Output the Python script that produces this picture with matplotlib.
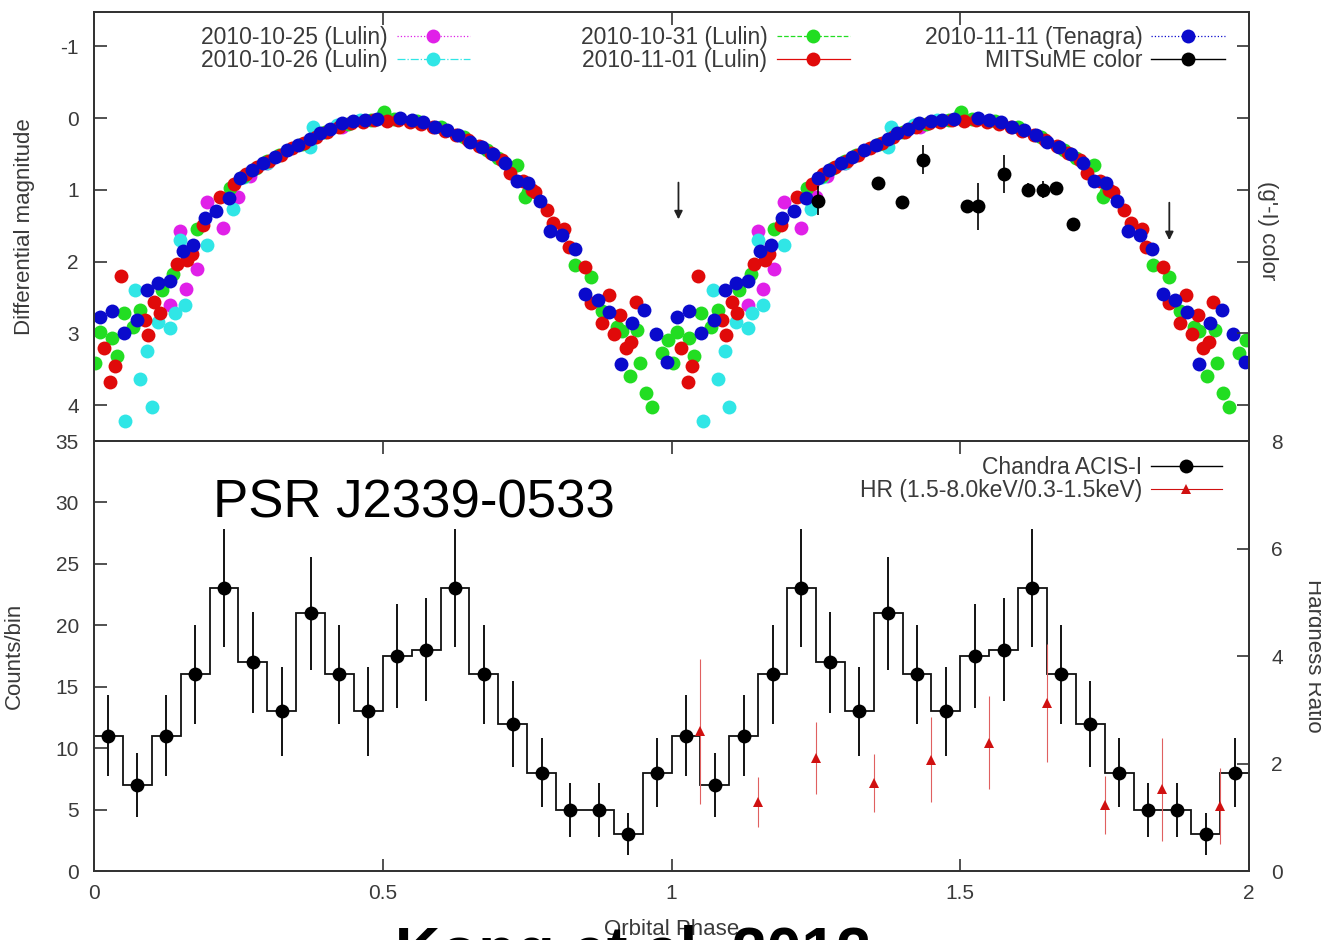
import numpy as np
import matplotlib.pyplot as plt
from matplotlib.lines import Line2D
from matplotlib.legend import Legend

plt.rcParams['font.family'] = ['Liberation Sans', 'DejaVu Sans']
plt.rcParams['axes.unicode_minus'] = False

# optical light curves, folded phase 0-1 (shown twice, 0-2)
ph_1025 = [0.132, 0.149, 0.159, 0.178, 0.195, 0.224, 0.250, 0.270, 0.300, 0.370, 0.430]
mag_1025 = [2.60, 1.58, 2.38, 2.11, 1.17, 1.53, 1.10, 0.80, 0.62, 0.36, 0.12]

ph_1026 = [0.054, 0.071, 0.080, 0.092, 0.100, 0.111, 0.132, 0.140, 0.149, 0.158,
           0.195, 0.241, 0.260, 0.300, 0.374, 0.380, 0.420, 0.460, 0.500]
mag_1026 = [4.22, 2.40, 3.64, 3.24, 4.03, 2.84, 2.93, 2.72, 1.70, 2.61,
            1.77, 1.26, 0.82, 0.62, 0.40, 0.12, 0.10, 0.03, -0.06]

ph_1031 = [0.002, 0.010, 0.031, 0.039, 0.051, 0.068, 0.080, 0.117, 0.137, 0.178,
           0.235, 0.260, 0.280, 0.300, 0.320, 0.360, 0.400, 0.440, 0.480, 0.502,
           0.520, 0.560, 0.600, 0.640, 0.680, 0.700, 0.732, 0.747, 0.752, 0.833,
           0.861, 0.880, 0.905, 0.914, 0.928, 0.941, 0.945, 0.955, 0.966, 0.983, 0.994]
mag_1031 = [3.42, 2.98, 3.07, 3.31, 2.72, 2.91, 2.67, 2.40, 2.17, 1.54,
            0.98, 0.80, 0.70, 0.60, 0.52, 0.36, 0.19, 0.08, 0.02, -0.08,
            0.01, 0.04, 0.13, 0.27, 0.44, 0.55, 0.66, 1.10, 1.03, 2.05,
            2.22, 2.69, 2.91, 2.97, 3.60, 2.96, 3.41, 3.83, 4.03, 3.28, 3.09]

ph_1101 = [0.017, 0.028, 0.036, 0.046, 0.088, 0.094, 0.104, 0.114, 0.143, 0.161,
           0.169, 0.189, 0.218, 0.243, 0.263, 0.283, 0.303, 0.323, 0.343, 0.364,
           0.384, 0.404, 0.424, 0.445, 0.465, 0.485, 0.507, 0.527, 0.547, 0.567,
           0.587, 0.607, 0.627, 0.647, 0.667, 0.687, 0.707, 0.720, 0.742, 0.758,
           0.764, 0.784, 0.795, 0.814, 0.822, 0.851, 0.861, 0.880, 0.891, 0.901,
           0.911, 0.921, 0.930, 0.938]
mag_1101 = [3.20, 3.68, 3.46, 2.20, 2.82, 3.03, 2.56, 2.71, 2.03, 1.98,
            1.90, 1.49, 1.10, 0.92, 0.78, 0.68, 0.60, 0.51, 0.42, 0.35,
            0.27, 0.19, 0.12, 0.07, 0.05, 0.03, 0.04, 0.03, 0.05, 0.08,
            0.12, 0.18, 0.24, 0.31, 0.39, 0.48, 0.58, 0.77, 0.88, 1.00,
            1.03, 1.28, 1.46, 1.55, 1.80, 2.07, 2.58, 2.85, 2.47, 3.01,
            2.75, 3.21, 3.12, 2.56]

ph_1111 = [0.010, 0.031, 0.051, 0.074, 0.092, 0.111, 0.132, 0.154, 0.172, 0.192,
           0.212, 0.233, 0.253, 0.273, 0.293, 0.313, 0.334, 0.354, 0.374, 0.391,
           0.409, 0.429, 0.449, 0.469, 0.490, 0.530, 0.550, 0.570, 0.590, 0.611,
           0.631, 0.651, 0.671, 0.691, 0.712, 0.732, 0.752, 0.772, 0.790, 0.811,
           0.832, 0.851, 0.872, 0.892, 0.913, 0.932, 0.953, 0.973, 0.993]
mag_1111 = [2.77, 2.69, 2.99, 2.82, 2.40, 2.30, 2.27, 1.85, 1.77, 1.39,
            1.30, 1.12, 0.84, 0.72, 0.62, 0.54, 0.45, 0.38, 0.29, 0.21,
            0.15, 0.07, 0.04, 0.02, 0.01, 0.00, 0.03, 0.06, 0.12, 0.17,
            0.23, 0.33, 0.40, 0.50, 0.63, 0.88, 0.91, 1.15, 1.57, 1.63,
            1.82, 2.45, 2.54, 2.70, 3.43, 2.85, 2.67, 3.01, 3.40]

# MITSuME (g'-I) colour
ph_mit = [1.254, 1.358, 1.399, 1.435, 1.511, 1.530, 1.575, 1.618, 1.644, 1.666, 1.696]
col_mit = [1.15, 0.91, 1.17, 0.58, 1.23, 1.23, 0.78, 1.00, 1.00, 0.98, 1.47]
err_mit = [0.20, 0.05, 0.07, 0.20, 0.05, 0.33, 0.27, 0.10, 0.12, 0.05, 0.05]

# arrows (phase, start, end)
arrow_ph = [1.012, 1.862]
arrow_y0 = [0.86, 1.14]
arrow_y1 = [1.45, 1.74]

# Chandra counts per 0.05 phase bin (phase 0-1, repeated)
counts = [11, 7, 11, 16, 23, 17, 13, 21, 16, 13, 17.5, 18, 23, 16, 12, 8, 5, 5, 3, 8]
counts_err = [3.3, 2.6, 3.3, 4.0, 4.8, 4.1, 3.6, 4.6, 4.0, 3.6,
              4.2, 4.2, 4.8, 4.0, 3.5, 2.8, 2.2, 2.2, 1.7, 2.8]

# hardness ratio
ph_hr = [1.05, 1.15, 1.25, 1.35, 1.45, 1.55, 1.65, 1.75, 1.85, 1.95]
hr = [2.60, 1.28, 2.10, 1.63, 2.07, 2.39, 3.12, 1.23, 1.52, 1.21]
hr_err = [1.35, 0.47, 0.67, 0.54, 0.79, 0.87, 1.10, 0.54, 0.96, 0.70]

series = [
    (ph_1025, mag_1025, '#e020e8', ':', '2010-10-25 (Lulin)'),
    (ph_1026, mag_1026, '#30e6e6', '-.', '2010-10-26 (Lulin)'),
    (ph_1031, mag_1031, '#22dd22', '--', '2010-10-31 (Lulin)'),
    (ph_1101, mag_1101, '#e00a0a', '-', '2010-11-01 (Lulin)'),
    (ph_1111, mag_1111, '#0a0acc', ':', '2010-11-11 (Tenagra)'),
]

TXT = '#3a3a3a'
AX = '#333333'


def twice(ph, val):
    ph = np.asarray(ph)
    val = np.asarray(val)
    x = np.concatenate([ph, ph + 1])
    y = np.concatenate([val, val])
    keep = x <= 2.0
    return x[keep], y[keep]


def style(ax):
    for s in ax.spines.values():
        s.set_color(AX)
        s.set_linewidth(1.3)
    ax.tick_params(direction='in', length=9, width=1.2, color=AX,
                   labelcolor=TXT, labelsize=15)


fig = plt.figure(figsize=(13.21, 9.40), dpi=100)
ax1 = fig.add_axes([0.0712, 0.5309, 0.8743, 0.4564])
ax2 = fig.add_axes([0.0712, 0.0734, 0.8743, 0.4574])

# ---- top panel: optical light curves
for ph, mag, c, ls, lab in series:
    x, y = twice(ph, mag)
    ax1.plot(x, y, 'o', color=c, ms=10, mew=0)

ax1.set_xlim(0, 2)
ax1.set_ylim(4.5, -1.48)
ax1.set_yticks([-1, 0, 1, 2, 3, 4])
ax1.set_xticks([0, 0.5, 1, 1.5, 2])
style(ax1)
ax1.tick_params(axis='x', labelbottom=False, bottom=False, top=True)
ax1.tick_params(axis='y', pad=11)
ax1.set_ylabel('Differential magnitude', fontsize=16, color=TXT, labelpad=18)

ax1r = ax1.twinx()
ax1r.set_ylim(4.5, -1.48)
ax1r.set_yticks([-1, 0, 1, 2, 3, 4])
style(ax1r)
ax1r.tick_params(labelright=False)
ax1r.errorbar(ph_mit, col_mit, yerr=err_mit, fmt='o', color='k', ms=10, mew=0,
              elinewidth=1.2, capsize=0)
ax1r.set_ylabel("(g'-I) color", fontsize=16, color=TXT, rotation=270)
ax1r.yaxis.set_label_coords(1.025, 0.49)

for xa, y0, y1 in zip(arrow_ph, arrow_y0, arrow_y1):
    ax1.annotate('', xy=(xa, y1), xytext=(xa, y0),
                 arrowprops=dict(arrowstyle='-|>', color='#222222', lw=1.3,
                                 mutation_scale=12))

handles = [Line2D([], [], color=c, ls=ls, lw=0.9, marker='o', ms=10, mew=0)
           for _, _, c, ls, _ in series]
labels = [s[4] for s in series]
handles.append(Line2D([], [], color='k', ls='-', lw=1.0, marker='o', ms=10, mew=0))
labels.append('MITSuME color')

legend_cols = [(0, 1, 0.3255), (2, 3, 0.6545), (4, 5, 0.979)]
for i, j, xr in legend_cols:
    leg = Legend(ax1, [handles[i], handles[j]], [labels[i], labels[j]],
                 loc='upper right', bbox_to_anchor=(xr, 0.968),
                 frameon=False, markerfirst=False, fontsize=16.5,
                 handlelength=3.2, handletextpad=0.4, labelspacing=0.0,
                 borderpad=0, borderaxespad=0, numpoints=1)
    for t in leg.get_texts():
        t.set_color(TXT)
    ax1.add_artist(leg)

# ---- bottom panel: X-ray counts and hardness ratio
edges = np.linspace(0, 2, 41)
counts2 = np.concatenate([counts, counts])
err2 = np.concatenate([counts_err, counts_err])
centers = 0.5 * (edges[:-1] + edges[1:])

ax2.stairs(counts2, edges, baseline=None, color='#111111', lw=1.3)
ax2.errorbar(centers, counts2, yerr=err2, fmt='o', color='k', ms=10, mew=0,
             elinewidth=1.3, capsize=0)
ax2.set_xlim(0, 2)
ax2.set_ylim(0, 35)
ax2.set_xticks([0, 0.5, 1, 1.5, 2])
ax2.set_xticklabels(['0', '0.5', '1', '1.5', '2'])
ax2.set_yticks(range(0, 36, 5))
style(ax2)
ax2.tick_params(axis='x', top=True, pad=9)
ax2.tick_params(axis='y', pad=11)
ax2.set_xlabel('Orbital Phase', fontsize=16, color=TXT, labelpad=12)
ax2.set_ylabel('Counts/bin', fontsize=16, color=TXT, labelpad=22)

ax2r = ax2.twinx()
ax2r.errorbar(ph_hr, hr, yerr=hr_err, fmt='^', color='#d01010', ms=7, mew=0,
              elinewidth=0.8, ecolor='#e06060', capsize=0)
ax2r.set_ylim(0, 8)
ax2r.set_yticks([0, 2, 4, 6, 8])
style(ax2r)
ax2r.tick_params(axis='y', pad=16)
ax2r.set_ylabel('Hardness Ratio', fontsize=16, color=TXT, rotation=270)
ax2r.yaxis.set_label_coords(1.065, 0.5)

h_cxo = Line2D([], [], color='k', lw=1.0, marker='o', ms=10, mew=0)
h_hr = Line2D([], [], color='#d01010', lw=0.8, marker='^', ms=7, mew=0)
leg2 = ax2r.legend([h_cxo, h_hr], ['Chandra ACIS-I', 'HR (1.5-8.0keV/0.3-1.5keV)'],
                   loc='upper right', bbox_to_anchor=(0.9766, 0.965),
                   frameon=False, markerfirst=False, fontsize=16.5,
                   handlelength=3.1, handletextpad=0.4, labelspacing=0.0,
                   borderpad=0, borderaxespad=0, numpoints=1)
for t in leg2.get_texts():
    t.set_color(TXT)

fig.text(213 / 1321, 1 - 518 / 940, 'PSR J2339-0533', fontsize=38,
         color='black', va='baseline', ha='left')
fig.text(395 / 1321, 1 - 971 / 940, 'Kong et al. 2012', fontsize=45,
         fontweight='bold', color='black', va='baseline', ha='left')

fig.savefig('out.png', dpi=100)
